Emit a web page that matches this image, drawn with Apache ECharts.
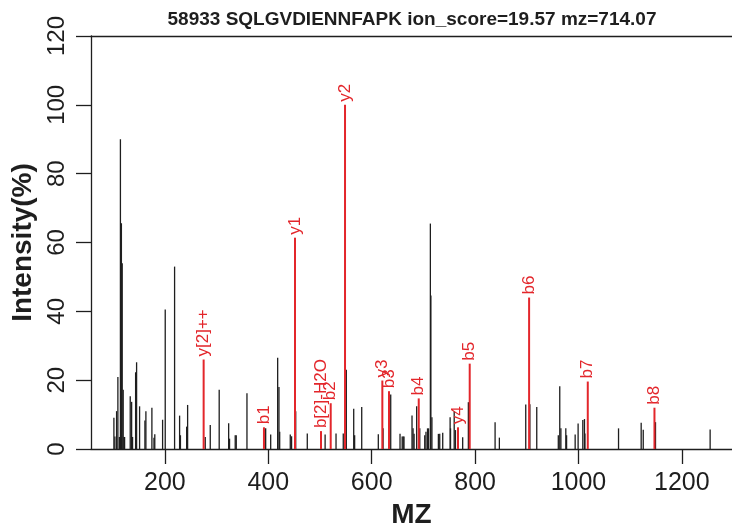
<!DOCTYPE html>
<html>
<head>
<meta charset="utf-8">
<script src="https://cdn.jsdelivr.net/npm/echarts@6/dist/echarts.min.js"></script>
<style>
html,body{margin:0;padding:0;background:#fff;}
#chart{width:732px;height:529px;}
</style>
</head>
<body>
<div id="chart"></div>
<script>
// ---- data ----
var chartTitle = '58933 SQLGVDIENNFAPK ion_score=19.57 mz=714.07';
var xTicks = [200, 400, 600, 800, 1000, 1200];
var yTicks = [0, 20, 40, 60, 80, 100, 120];

// unannotated peaks (black)
var peakMz = [101.3, 103.2, 106.5, 109, 112, 113.9, 115.8, 117.4, 119.3, 121, 122,
  132.9, 135.6, 137.4, 143.3, 145.2, 151, 161.3, 163.2, 174.8, 178.8, 180.4, 195.5,
  200.6, 218.7, 228.4, 230, 242, 243.9, 278, 287.7, 305, 323.3, 325, 336, 338, 358.7,
  394.9, 404.6, 418.1, 420.6, 422, 442.5, 445, 453, 475.4, 509.9, 531, 545, 550.9,
  565.2, 567, 580.7, 612.8, 622, 636.8, 654.8, 659, 661, 662.5, 678, 680, 682, 687,
  693, 702.6, 705, 708, 710, 713.5, 714.5, 716.5, 729, 731.6, 737.4, 751.7, 752.5,
  759.6, 762, 776, 787, 838.7, 847, 898, 906, 919.3, 961, 963.8, 966, 975.5, 977,
  993.6, 999.3, 1008.4, 1011.6, 1012.5, 1077.5, 1121.3, 1125.3, 1149, 1254.7];
var peakInt = [9.1, 3.6, 11, 20.9, 3.5, 90, 65.6, 54, 17.2, 3.5, 3.5,
  15.3, 13.7, 3.5, 22.3, 25.2, 12.4, 8.3, 11, 12, 3.3, 4.3, 8.5,
  40.5, 53, 9.7, 4, 6.5, 12.8, 3.5, 7, 17.2, 7.5, 3, 4, 4, 16.2,
  6, 4.2, 26.5, 18, 5, 4.2, 3.7, 11, 4.5, 4.2, 4.5, 4.5, 23,
  11.7, 4, 12.2, 4.3, 6, 15.8, 4.4, 3.6, 3.6, 3.6, 9.7, 6, 4.4, 12.4,
  6, 4, 5, 6, 6, 65.5, 44.6, 9.2, 4.4, 4.4, 4.7, 9.2, 6,
  11, 5.5, 3.4, 13.6, 7.8, 3.3, 12.9, 13, 12.2, 4, 18.2, 6, 6, 4,
  4.2, 7.4, 8.4, 8.7, 4.5, 6, 7.6, 5.6, 7.8, 5.7];

// annotated fragment peaks (red)
var annMz = [274.9, 391.6, 451.6, 501.9, 520.7, 548.4, 620.6, 633.5, 691, 767, 789.6, 904.5, 1018, 1147];
var annInt = [26, 6.3, 61.4, 5.2, 13.3, 100, 19.9, 16.8, 14.7, 6.3, 24.8, 44, 19.6, 12];
var annLabel = ['y[2]++', 'b1', 'y1', 'b[2]-H2O', 'b2', 'y2', 'y3', 'b3', 'b4', 'y4', 'b5', 'b6', 'b7', 'b8'];

// ---- chart ----
var FONT = 'Liberation Sans, Arial, Helvetica, sans-serif';
var INK = '#1e1e1e';
var RED = '#e3262b';

var peakData = peakMz.map(function (m, i) { return [m, peakInt[i]]; });
var annData = annMz.map(function (m, i) { return [m, annInt[i]]; });

var chart = echarts.init(document.getElementById('chart'), null, { renderer: 'canvas' });

chart.setOption({
  animation: false,
  backgroundColor: '#fff',
  title: {
    text: chartTitle,
    left: 412,
    top: 10,
    textAlign: 'center',
    padding: 0,
    textStyle: { fontFamily: FONT, fontWeight: 'bold', fontSize: 19, color: INK }
  },
  grid: { left: 91, right: 0, top: 36, bottom: 80, containLabel: false, outerBoundsMode: 'none' },
  xAxis: [{
    type: 'value',
    min: 57, max: 1297,
    name: 'MZ',
    nameLocation: 'middle',
    nameGap: 50,
    nameTextStyle: { fontFamily: FONT, fontWeight: 'bold', fontSize: 28, color: INK },
    axisLine: { show: true, onZero: false, lineStyle: { color: INK, width: 1.3 } },
    axisTick: { show: true, inside: false, length: 15, customValues: xTicks, lineStyle: { color: INK, width: 1.3 } },
    axisLabel: { show: true, customValues: xTicks, margin: 22, fontFamily: FONT, fontSize: 25, color: INK,
      formatter: function (v) { return String(v); } },
    splitLine: { show: false }
  }, {
    type: 'value',
    position: 'top',
    min: 57, max: 1297,
    axisLine: { show: true, onZero: false, lineStyle: { color: INK, width: 1.3 } },
    axisTick: { show: false },
    axisLabel: { show: false },
    splitLine: { show: false }
  }],
  yAxis: {
    type: 'value',
    min: 0, max: 120, interval: 20,
    name: 'Intensity(%)',
    nameLocation: 'middle',
    nameGap: 47,
    nameTextStyle: { fontFamily: FONT, fontWeight: 'bold', fontSize: 28, color: INK },
    axisLine: { show: true, onZero: false, lineStyle: { color: INK, width: 1.3 } },
    axisTick: { show: true, inside: false, length: 15, lineStyle: { color: INK, width: 1.3 } },
    axisLabel: { show: true, rotate: 90, margin: 22, fontFamily: FONT, fontSize: 24, color: INK,
      formatter: function (v) { return yTicks.indexOf(v) >= 0 ? String(v) : ''; } },
    splitLine: { show: false }
  },
  series: [{
    type: 'custom',
    name: 'peaks',
    xAxisIndex: 0,
    data: peakData,
    renderItem: function (params, api) {
      var p0 = api.coord([api.value(0), 0]);
      var p1 = api.coord([api.value(0), api.value(1)]);
      return {
        type: 'line',
        shape: { x1: p0[0], y1: p0[1], x2: p1[0], y2: p1[1] },
        style: { stroke: INK, lineWidth: 1.3 }
      };
    }
  }, {
    type: 'custom',
    name: 'annotated',
    xAxisIndex: 0,
    data: annData,
    renderItem: function (params, api) {
      var p0 = api.coord([api.value(0), 0]);
      var p1 = api.coord([api.value(0), api.value(1)]);
      return {
        type: 'group',
        children: [{
          type: 'line',
          shape: { x1: p0[0], y1: p0[1], x2: p1[0], y2: p1[1] },
          style: { stroke: RED, lineWidth: 2 }
        }, {
          type: 'text',
          x: p1[0],
          y: p1[1] - 3,
          rotation: Math.PI / 2,
          style: {
            text: annLabel[params.dataIndex],
            fill: RED,
            font: '17px ' + FONT,
            align: 'left',
            verticalAlign: 'middle'
          }
        }]
      };
    }
  }]
});
</script>
</body>
</html>
